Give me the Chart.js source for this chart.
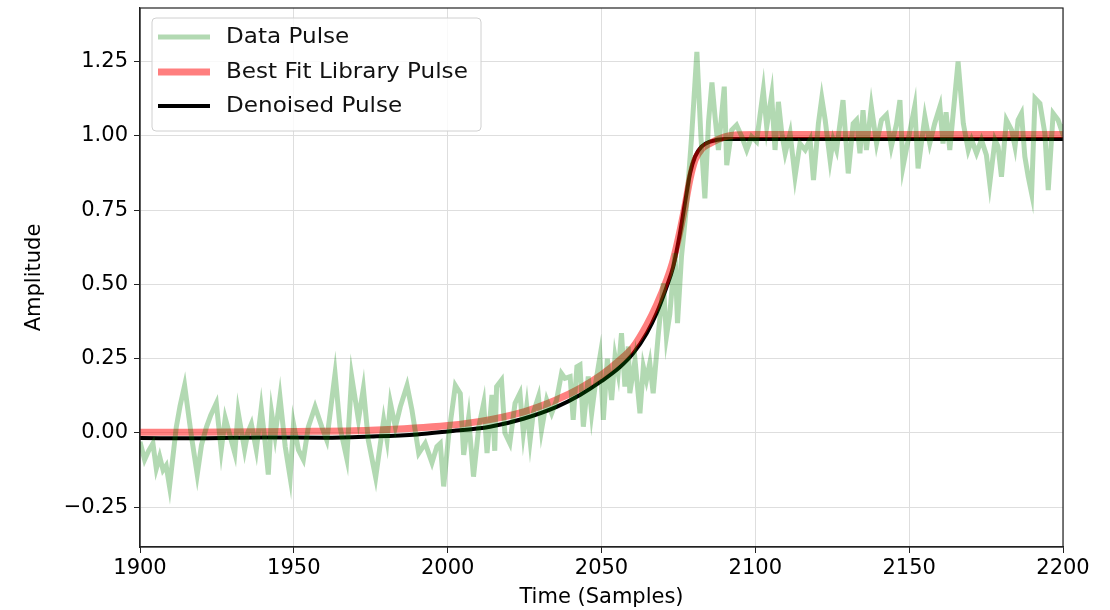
<!DOCTYPE html>
<html>
<head>
<meta charset="utf-8">
<script src="https://cdn.jsdelivr.net/npm/chart.js@4"></script>
<style>
  html, body { margin: 0; padding: 0; background: #fff; }
  #wrap { width: 1110px; height: 610px; }
</style>
</head>
<body>
<div id="wrap"><canvas id="c" width="1110" height="610"></canvas></div>
<script>
// ---- Data ----
const dataT = [1900,1901.5,1902.8,1904.2,1905.3,1906.4,1907.5,1908.5,1909.6,1911.8,1913,1914.5,1916.7,1918.6,1920,1921.6,1923,1924.8,1926.4,1927.7,1929,1930.8,1931.9,1934,1935,1936.2,1937.8,1939.4,1940.7,1941.7,1942.8,1943.9,1945.5,1947.2,1948.8,1949.9,1951.5,1953.1,1954.7,1956.9,1959.1,1960.7,1963.4,1965,1967.2,1968.8,1971,1972.6,1974.2,1976.6,1979.2,1980.3,1981.4,1983,1984.6,1986.8,1988.4,1990.6,1992.7,1994.9,1996.5,1997.6,1998.7,2000.3,2002.5,2004.1,2005.2,2006.8,2008.4,2010.1,2011.7,2012.8,2014.4,2015.3,2015.9,2017.5,2018.6,2020.2,2021.9,2023.5,2024.6,2025.7,2026.8,2027.8,2029.5,2030.5,2032.2,2033.8,2035.4,2037.0,2038.1,2039.8,2040.8,2042.0,2043.0,2044.1,2045.7,2046.8,2047.9,2049.5,2050.6,2051.9,2053.3,2054.4,2055.4,2056.5,2057.6,2058.7,2059.2,2060.9,2062.5,2063.6,2064.6,2065.7,2066.8,2068.4,2070.1,2071.1,2072.2,2073.9,2074.7,2076.0,2077.6,2079.3,2081.0,2082.3,2083.6,2084.8,2085.9,2086.9,2088,2089.9,2090.7,2092.3,2093.9,2095.6,2097.2,2098.8,2100.4,2102.6,2103.7,2105.3,2106.4,2107.5,2108.6,2109.7,2111.3,2112.9,2114.5,2116.2,2117.8,2118.9,2120.5,2121.6,2122.7,2124.3,2125.3,2126.4,2128.5,2130.2,2131.8,2132.9,2134.0,2135.0,2136.1,2137.7,2139.4,2141.0,2142.6,2144.2,2145.9,2147.0,2148.0,2149.7,2151.8,2152.9,2155.1,2156.7,2158.3,2160.0,2161.0,2162.0,2163.2,2164.3,2165.9,2167.6,2169.2,2170.3,2171.9,2173.5,2175.1,2176.2,2177.9,2178.9,2180.0,2181.6,2183.3,2184.4,2185.4,2186.5,2187.6,2188.7,2189.8,2190.9,2192.5,2194.1,2195.2,2196.8,2198.4,2199.5,2200];
const dataV = [-0.03,-0.09,-0.06,-0.035,-0.12,-0.08,-0.125,-0.11,-0.18,0.02,0.09,0.16,-0.01,-0.14,-0.04,0.02,0.06,0.10,-0.057,0.05,0.0,-0.068,0.07,-0.057,0.0,0.03,-0.057,0.083,-0.035,-0.14,0.066,-0.01,0.12,-0.046,-0.15,0.03,-0.057,-0.09,0.02,0.088,0.02,-0.024,0.20,0.02,-0.085,0.19,0.044,0.15,-0.024,-0.15,0.044,-0.024,0.10,0.02,0.088,0.16,0.077,-0.068,-0.035,-0.10,-0.046,-0.035,-0.18,-0.01,0.16,0.133,-0.074,0.05,-0.147,0.02,0.10,-0.068,0.128,-0.06,0.156,0.178,0.0,-0.035,0.10,0.134,0.0,0.089,-0.024,0.066,0.122,0.01,0.111,0.066,0.111,0.20,0.184,0.19,0.044,0.223,0.229,0.021,0.19,0.066,0.156,0.257,0.044,0.25,0.111,0.257,0.20,0.336,0.156,0.291,0.134,0.246,0.066,0.223,0.178,0.235,0.134,0.325,0.504,0.325,0.40,0.605,0.37,0.594,0.76,1.0,1.283,1.0,0.79,1.05,1.18,1.065,0.953,1.166,0.902,1.02,1.037,0.998,0.953,0.998,0.981,1.155,1.031,1.138,0.953,1.115,1.009,0.942,1.009,0.863,0.975,0.953,0.987,0.852,1.042,1.127,1.054,0.919,0.987,0.953,1.121,0.874,1.042,1.054,0.942,1.087,0.953,1.099,0.975,1.054,1.071,0.964,1.042,1.121,0.897,0.987,1.099,0.891,1.065,0.975,1.042,1.099,0.975,1.08,0.953,1.076,1.25,1.042,0.953,0.987,0.942,0.987,0.936,0.84,0.987,0.964,0.863,1.054,1.02,0.964,1.054,1.076,0.93,0.863,0.807,1.127,1.11,1.009,0.818,1.076,1.054,1.02,1.04];

const fitT = [1900,1950,1975,2000,2013.75,2025,2035,2043,2050.2,2056,2060.3,2064.7,2067.9,2071.2,2073.3,2075.5,2077.1,2078.8,2080.4,2082.5,2085.3,2090,2095,2100,2200];
const fitV = [0.002,0.005,0.009,0.025,0.045,0.072,0.11,0.15,0.197,0.246,0.29,0.364,0.431,0.515,0.582,0.68,0.762,0.857,0.919,0.955,0.975,0.997,1.004,1.005,1.005];

const denT = [1900,1920,1940,1960,1975,1990,2000,2013.75,2024.6,2035.4,2043,2050.2,2056,2060.3,2064.7,2067.9,2071.2,2073.3,2075.5,2077.1,2078.8,2080.4,2082.5,2085.3,2090,2100,2200];
const denV = [-0.017,-0.018,-0.015,-0.016,-0.012,-0.005,0.005,0.021,0.048,0.088,0.128,0.176,0.222,0.268,0.336,0.403,0.493,0.56,0.672,0.773,0.874,0.93,0.964,0.981,0.99,0.99,0.99];

const xTicks = [1900,1950,2000,2050,2100,2150,2200];
const yTicks = [-0.25,0,0.25,0.5,0.75,1.0,1.25];
const seriesNames = ['Data Pulse','Best Fit Library Pulse','Denoised Pulse'];

const pts = (xs, ys) => xs.map((x, i) => ({x, y: ys[i]}));
const FONT = 'DejaVu Sans';

const legendBox = {
  id: 'legendBox',
  afterDatasetsDraw(chart) {
    const ctx = chart.ctx;
    const x0 = 152, y0 = 18, w = 329, h = 113, r = 4;
    ctx.save();
    ctx.beginPath();
    ctx.moveTo(x0 + r, y0);
    ctx.arcTo(x0 + w, y0, x0 + w, y0 + h, r);
    ctx.arcTo(x0 + w, y0 + h, x0, y0 + h, r);
    ctx.arcTo(x0, y0 + h, x0, y0, r);
    ctx.arcTo(x0, y0, x0 + w, y0, r);
    ctx.closePath();
    ctx.fillStyle = 'rgba(255,255,255,0.8)';
    ctx.fill();
    ctx.strokeStyle = '#d0d0d0';
    ctx.lineWidth = 1;
    ctx.stroke();
    const rows = [37, 72, 106];
    chart.data.datasets.forEach((ds, i) => {
      ctx.beginPath();
      ctx.moveTo(158, rows[i]);
      ctx.lineTo(210, rows[i]);
      ctx.strokeStyle = ds.borderColor;
      ctx.lineWidth = ds.borderWidth;
      ctx.lineCap = 'butt';
      ctx.stroke();
      ctx.save();
      ctx.translate(226, rows[i] + 1);
      ctx.scale(1.1, 1);
      ctx.fillStyle = '#111';
      ctx.font = '21px "' + FONT + '"';
      ctx.textBaseline = 'middle';
      ctx.textAlign = 'left';
      ctx.fillText(ds.label, 0, 0);
      ctx.restore();
    });
    ctx.restore();
  },
  afterDraw(chart) {
    const a = chart.chartArea, ctx = chart.ctx;
    ctx.save();
    ctx.strokeStyle = '#222';
    ctx.lineWidth = 1.2;
    ctx.strokeRect(a.left, a.top, a.right - a.left, a.bottom - a.top);
    ctx.restore();
  }
};

new Chart(document.getElementById('c'), {
  type: 'line',
  data: {
    datasets: [
      { label: seriesNames[0], data: pts(dataT, dataV), borderColor: 'rgba(0,128,0,0.3)', borderWidth: 5, pointRadius: 0, tension: 0, clip: 0 },
      { label: seriesNames[1], data: pts(fitT, fitV), borderColor: 'rgba(255,0,0,0.5)', borderWidth: 7, pointRadius: 0, cubicInterpolationMode: 'monotone', clip: 0 },
      { label: seriesNames[2], data: pts(denT, denV), borderColor: '#000', borderWidth: 4, pointRadius: 0, cubicInterpolationMode: 'monotone', clip: 0 }
    ]
  },
  options: {
    responsive: false,
    animation: false,
    devicePixelRatio: 1,
    layout: { padding: { top: 8, right: 47, left: 0, bottom: 0 } },
    plugins: { legend: { display: false }, tooltip: { enabled: false } },
    scales: {
      x: {
        type: 'linear', min: 1900, max: 2200,
        afterFit: s => { s.height = 63; },
        afterBuildTicks: s => { s.ticks = xTicks.map(v => ({value: v})); },
        ticks: { color: '#000', font: { family: FONT, size: 21 }, padding: 3, maxRotation: 0, callback: v => String(v) },
        grid: { color: '#dedede', lineWidth: 1, tickLength: 6, tickColor: '#222' },
        border: { display: true, color: '#222', width: 1.2 },
        title: { display: true, text: 'Time (Samples)', color: '#000', font: { family: FONT, size: 21 }, padding: { top: 0, bottom: 0 } }
      },
      y: {
        type: 'linear', min: -0.384, max: 1.431,
        afterFit: s => { s.width = 140; s.paddingTop = 0; s.paddingBottom = 0; },
        afterBuildTicks: s => { s.ticks = yTicks.map(v => ({value: v})); },
        ticks: { color: '#000', font: { family: FONT, size: 21 }, padding: 6, callback: v => v.toFixed(2).replace('-', '\u2212') },
        grid: { color: '#dedede', lineWidth: 1, tickLength: 6, tickColor: '#222' },
        border: { display: true, color: '#222', width: 1.2 },
        title: { display: true, text: 'Amplitude', color: '#000', font: { family: FONT, size: 21 }, padding: { top: 22, bottom: 0 } }
      }
    }
  },
  plugins: [legendBox]
});
</script>
</body>
</html>
